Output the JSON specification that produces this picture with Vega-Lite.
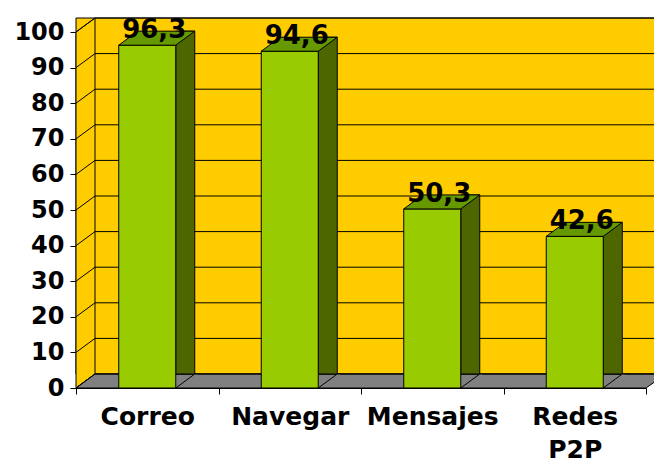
{
  "$schema": "https://vega.github.io/schema/vega-lite/v6.json",
  "width": 570,
  "height": 356,
  "autosize": "none",
  "padding": {"left": 76, "top": 32, "right": 8, "bottom": 76},
  "background": "white",
  "config": {
    "view": {"stroke": null},
    "locale": {"number": {"decimal": ",", "thousands": ".", "grouping": [3], "currency": ["", " €"]}},
    "axisX": {"tickBand": "extent", "labelAngle": 0, "domainColor": "black", "tickColor": "black", "tickSize": 6, "labelFont": "DejaVu Sans", "labelFontWeight": "bold", "labelFontSize": 25, "labelColor": "black", "labelPadding": 10, "labelLineHeight": 33, "grid": false, "zindex": 1},
    "axisY": {"domainColor": "black", "tickColor": "black", "tickSize": 6, "labelFont": "DejaVu Sans", "labelFontWeight": "bold", "labelFontSize": 24, "labelColor": "black", "labelPadding": 6, "grid": false, "zindex": 1, "tickCount": 11}
  },
  "datasets": {
    "bars": [
      {"cat": "Correo", "v": 96.3},
      {"cat": "Navegar", "v": 94.6},
      {"cat": "Mensajes", "v": 50.3},
      {"cat": "Redes P2P", "v": 42.6}
    ],
    "ticks": [{"t": 0}, {"t": 10}, {"t": 20}, {"t": 30}, {"t": 40}, {"t": 50}, {"t": 60}, {"t": 70}, {"t": 80}, {"t": 90}, {"t": 100}]
  },
  "data": {"name": "bars"},
  "layer": [
    {
      "data": {"values": [{"w": 1}]},
      "mark": {"type": "rect", "fill": "#FFCC00", "stroke": "black", "strokeWidth": 1, "xOffset": 19, "x2Offset": 8, "yOffset": -14, "y2Offset": -14},
      "encoding": {
        "y": {"datum": 100, "type": "quantitative", "title": null, "scale": {"domain": [0, 100]}},
        "y2": {"datum": 0}
      }
    },
    {
      "data": {"values": [{"w": 1}]},
      "mark": {"type": "point", "shape": "M0,0 L0,-356 L19,-370 L19,-14 Z", "size": 4, "filled": true, "fill": "#FFCC00", "stroke": "black", "strokeWidth": 1, "opacity": 1},
      "encoding": {
        "x": {"datum": "Correo", "type": "nominal", "bandPosition": 0, "title": null, "scale": {"type": "band", "domain": ["Correo", "Navegar", "Mensajes", "Redes P2P"], "paddingInner": 0, "paddingOuter": 0}},
        "y": {"datum": 0, "type": "quantitative", "title": null}
      }
    },
    {
      "data": {"values": [{"w": 1}]},
      "mark": {"type": "point", "shape": "M0,0 L19,-14 L590,-14 L570,0 Z", "size": 4, "filled": true, "fill": "#808080", "stroke": "black", "strokeWidth": 1, "opacity": 1},
      "encoding": {
        "x": {"datum": "Correo", "type": "nominal", "bandPosition": 0, "title": null},
        "y": {"datum": 0, "type": "quantitative", "title": null}
      }
    },
    {
      "data": {"name": "ticks"},
      "mark": {"type": "point", "shape": "M0,0 L19,-14 L590,-14", "size": 4, "filled": false, "stroke": "black", "strokeWidth": 1, "opacity": 1},
      "encoding": {
        "x": {"datum": "Correo", "type": "nominal", "bandPosition": 0, "title": null},
        "y": {"field": "t", "type": "quantitative", "title": null}
      }
    },
    {
      "mark": {"type": "bar", "fill": "#4D6600", "stroke": "black", "strokeWidth": 1, "width": 19, "xOffset": 38, "yOffset": -14},
      "encoding": {
        "x": {"field": "cat", "type": "nominal", "title": null, "sort": null},
        "y": {"field": "v", "type": "quantitative", "title": null}
      }
    },
    {
      "mark": {"type": "bar", "fill": "#99CC00", "stroke": "black", "strokeWidth": 1, "width": {"band": 0.4}},
      "encoding": {
        "x": {"field": "cat", "type": "nominal", "title": null, "sort": null, "axis": {"labelExpr": "datum.label == 'Redes P2P' ? ['Redes', 'P2P'] : datum.label"}},
        "y": {"field": "v", "type": "quantitative", "title": null}
      }
    },
    {
      "mark": {"type": "point", "shape": "M-28.5,0 L28.5,0 L47.5,-14 L-9.5,-14 Z", "size": 4, "filled": true, "fill": "#669900", "stroke": "black", "strokeWidth": 1, "opacity": 1},
      "encoding": {
        "x": {"field": "cat", "type": "nominal", "title": null, "sort": null},
        "y": {"field": "v", "type": "quantitative", "title": null}
      }
    },
    {
      "mark": {"type": "point", "shape": "M50,-14 L47.5,-14 L28.5,0 L50,0", "size": 4, "filled": true, "fill": "#808080", "stroke": "black", "strokeWidth": 1, "opacity": 1},
      "encoding": {
        "x": {"field": "cat", "type": "nominal", "title": null, "sort": null},
        "y": {"datum": 0, "type": "quantitative", "title": null}
      }
    },
    {
      "mark": {"type": "text", "font": "DejaVu Sans", "fontWeight": "bold", "fontSize": 26, "fill": "black", "dx": 7, "dy": -7, "baseline": "alphabetic", "align": "center"},
      "encoding": {
        "x": {"field": "cat", "type": "nominal", "title": null, "sort": null},
        "y": {"field": "v", "type": "quantitative", "title": null},
        "text": {"field": "v", "type": "quantitative", "format": ".1f"}
      }
    }
  ]
}
